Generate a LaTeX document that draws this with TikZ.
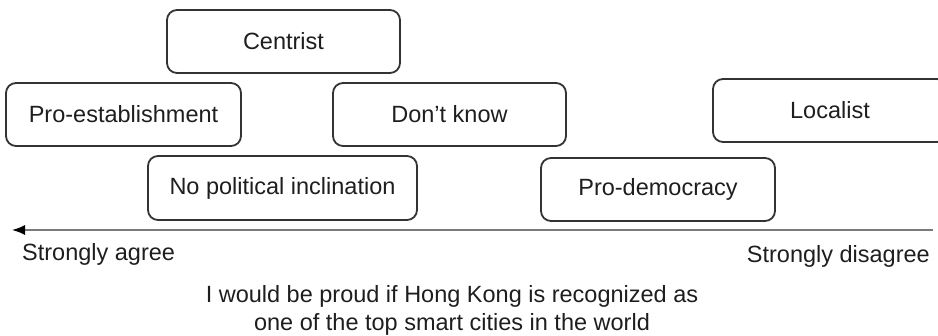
\documentclass[tikz,border=0pt]{standalone}
\usepackage{fontspec}
\setmainfont{Liberation Sans}
\usetikzlibrary{arrows.meta}
\definecolor{boxline}{HTML}{333333}
\definecolor{txt}{HTML}{1E1E1E}
\definecolor{axis}{HTML}{7A7A7A}
\begin{document}
\begin{tikzpicture}[x=1pt,y=-1pt,
  catbox/.style={draw=boxline, line width=1.8pt, rounded corners=10pt, text=txt,
    font=\fontsize{23.5}{27}\selectfont, inner sep=0pt},
  lbl/.style={text=txt, font=\fontsize{23.5}{28.5}\selectfont, inner sep=0pt}]
\useasboundingbox (0,0) rectangle (938,336);
\clip (0,0) rectangle (938,336);
\node[catbox, minimum width=233pt, minimum height=63pt] (cen) at (283.5,41.5) {Centrist};
\node[catbox, minimum width=235pt, minimum height=63pt] (pe) at (123.5,114.5) {Pro-establishment};
\node[catbox, minimum width=233pt, minimum height=63pt] (dk) at (449.5,114.5) {Don’t know};
\node[catbox, minimum width=234pt, minimum height=63pt] (loc) at (830,110.5) {Localist};
\node[catbox, minimum width=269pt, minimum height=64pt] (npi) at (282.5,188) {No political inclination};
\node[catbox, minimum width=234pt, minimum height=63pt] (pd) at (658,189.5) {Pro-democracy};
\coordinate (aR) at (933,230);
\coordinate (aL) at (12,230);
\draw[axis, line width=1.5pt, -{Latex[length=13pt,width=10pt,color=black]}] (aR) -- (aL);
\node[lbl, anchor=base west] (sa) at (22,261) {Strongly agree};
\node[lbl, anchor=base east] (sd) at (930,263) {Strongly disagree};
\node[lbl, align=center, anchor=base] (q) at (452,331) {I would be proud if Hong Kong is recognized as\\one of the top smart cities in the world};
\end{tikzpicture}
\end{document}
